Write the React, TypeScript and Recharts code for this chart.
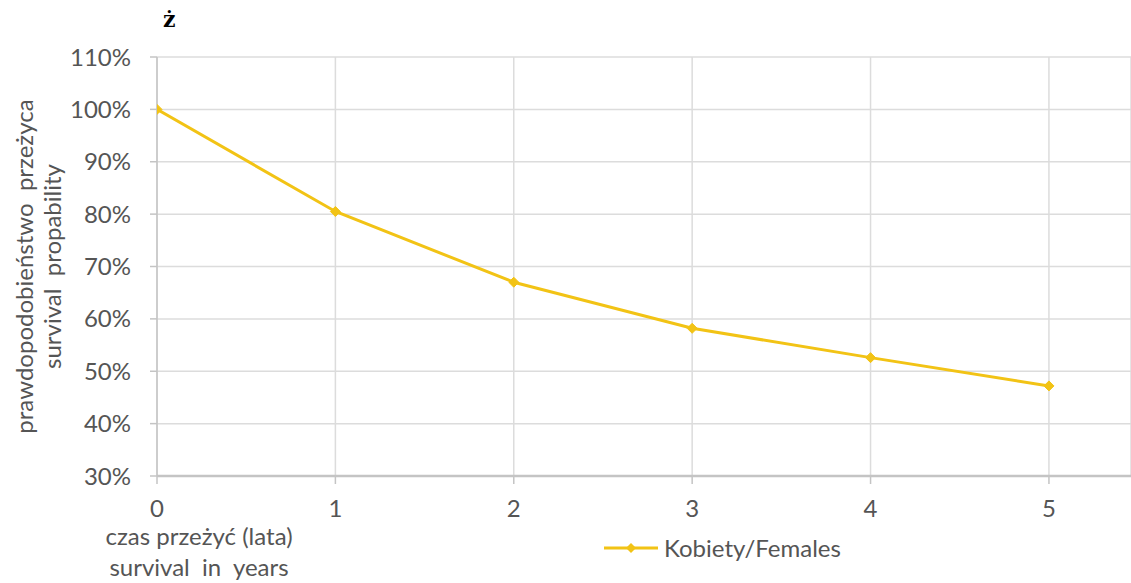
import React from "react";
import {
  LineChart,
  Line,
  XAxis,
  YAxis,
  CartesianGrid,
  Legend,
} from "recharts";

// ─── Data ─────────────────────────────────────────────────────────────────────
const years = [0, 1, 2, 3, 4, 5];
const females = [1.0, 0.805, 0.67, 0.582, 0.526, 0.472];
const yTicks = [0.3, 0.4, 0.5, 0.6, 0.7, 0.8, 0.9, 1.0, 1.1];
const seriesName = "Kobiety/Females";
const xTitle = ["czas przeżyć (lata)", "survival  in  years"];
const yTitle = ["prawdopodobieństwo  przeżyca", "survival  propability"];

const data = years.map((year, i) => ({ year, females: females[i] }));

// ─── Palette ──────────────────────────────────────────────────────────────────
const LINE = "#f2c315";
const TEXT = "#555555";
const GRID = "#dcdcdc";
const AXIS = "#c4c4c4";
const FONT = "Lato, 'Open Sans', sans-serif";
const FS = 24;

const Diamond = (props: any) => {
  const { cx, cy } = props;
  if (cx == null || cy == null) return null;
  const r = 5;
  return (
    <polygon
      points={`${cx},${cy - r} ${cx + r},${cy} ${cx},${cy + r} ${cx - r},${cy}`}
      fill={LINE}
      stroke={LINE}
    />
  );
};

const YTitle = (props: any) => {
  const { viewBox } = props;
  const cy = viewBox.y + viewBox.height / 2;
  return (
    <g>
      {yTitle.map((t, i) => {
        const x = 23 + i * 28;
        return (
          <text
            key={t}
            x={x}
            y={cy}
            transform={`rotate(-90, ${x}, ${cy})`}
            textAnchor="middle"
            dominantBaseline="central"
            fill={TEXT}
            fontSize={FS}
            fontFamily={FONT}
            style={{ whiteSpace: "pre" }}
          >
            {t}
          </text>
        );
      })}
    </g>
  );
};

const XTitle = () => (
  <g>
    {xTitle.map((t, i) => (
      <text
        key={t}
        x={199}
        y={535 + i * 31}
        textAnchor="middle"
        dominantBaseline="central"
        fill={TEXT}
        fontSize={FS}
        fontFamily={FONT}
        style={{ whiteSpace: "pre" }}
      >
        {t}
      </text>
    ))}
  </g>
);

const LegendContent = () => (
  <div style={{ display: "flex", alignItems: "center", fontFamily: FONT, fontSize: FS, color: TEXT, whiteSpace: "nowrap" }}>
    <svg width={58} height={14}>
      <line x1={2} y1={7} x2={56} y2={7} stroke={LINE} strokeWidth={3} />
      <polygon points="29,2 34,7 29,12 24,7" fill={LINE} />
    </svg>
    <span style={{ marginLeft: 4 }}>{seriesName}</span>
  </div>
);

export default function App() {
  return (
    <div style={{ position: "absolute", left: 0, top: 0, width: 1131, height: 583, background: "#fff" }}>
      <div
        style={{
          position: "absolute",
          left: 163,
          top: 6,
          fontFamily: "'DejaVu Serif', 'Liberation Serif', serif",
          fontWeight: "bold",
          fontSize: 22,
          color: "#000",
        }}
      >
        ż
      </div>
      <LineChart
        width={1131}
        height={583}
        data={data}
        margin={{ top: 57, right: 0, bottom: 0, left: 0 }}
      >
        <CartesianGrid stroke={GRID} strokeWidth={1.5} />
        <XAxis
          type="number"
          dataKey="year"
          domain={[0, 5.46]}
          ticks={years}
          allowDataOverflow
          axisLine={{ stroke: AXIS, strokeWidth: 2.5 }}
          tickLine={{ stroke: AXIS, strokeWidth: 1.5 }}
          tickSize={8}
          tickMargin={16}
          tick={{ fill: TEXT, fontSize: FS, fontFamily: FONT }}
          height={107}
          label={<XTitle />}
        />
        <YAxis
          type="number"
          domain={[0.3, 1.1]}
          ticks={yTicks}
          allowDataOverflow
          width={157}
          axisLine={{ stroke: AXIS, strokeWidth: 1.5 }}
          tickLine={{ stroke: AXIS, strokeWidth: 1.5 }}
          tickSize={7}
          tickMargin={19}
          tickFormatter={(v: number) => `${Math.round(v * 100)}%`}
          tick={{ fill: TEXT, fontSize: FS, fontFamily: FONT }}
          label={<YTitle />}
        />
        <Legend
          layout="horizontal"
          verticalAlign="middle"
          align="center"
          content={<LegendContent />}
          wrapperStyle={{ position: "absolute", left: 602, top: 533, width: 320, height: 30 }}
        />
        <Line
          type="linear"
          dataKey="females"
          name={seriesName}
          stroke={LINE}
          strokeWidth={3}
          dot={<Diamond />}
          activeDot={false}
          isAnimationActive={false}
        />
      </LineChart>
    </div>
  );
}
